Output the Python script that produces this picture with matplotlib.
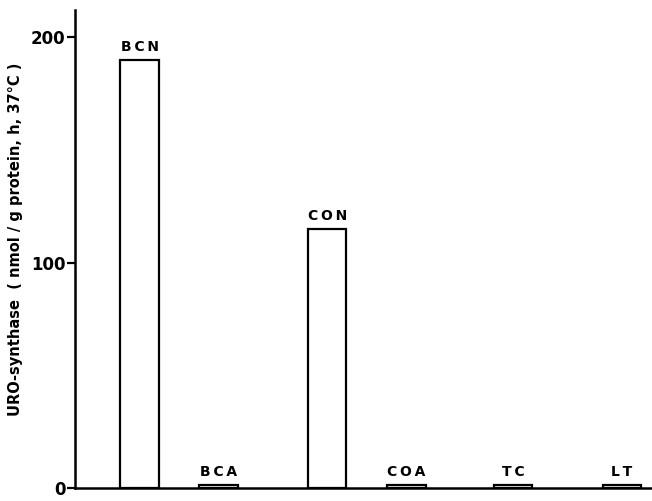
from matplotlib import pyplot as plt

groups = ['BCN', 'BCA', 'CON', 'COA', 'TC', 'LT']
activity = [190, 1.5, 115, 1.5, 1.5, 1.3]
ytick_vals = [0, 100, 200]

if __name__ == "__main__":
    plt.rcParams['font.family'] = ['DejaVu Sans']
    fig = plt.figure(figsize=(6.52, 5.01), dpi=100)
    ax = fig.add_axes([0.115, 0.026, 0.885, 0.954])

    xpos = [0.82, 1.82, 3.19, 4.19, 5.54, 6.92]
    ax.bar(xpos, activity, width=0.49, color='white', edgecolor='black', linewidth=1.6)
    for x, v, g in zip(xpos, activity, groups):
        ax.text(x, v + 2.5, '\u2009'.join(g), ha='center', va='bottom',
                fontsize=10, fontweight='bold')

    ax.set_xlim(0, 7.3)
    ax.set_ylim(0, 212)
    ax.set_yticks(ytick_vals)
    ax.set_yticklabels([str(t) for t in ytick_vals], fontsize=12, fontweight='bold')
    ax.set_xticks([])
    ax.tick_params(axis='y', direction='out', length=6, width=1.6, pad=1)
    ax.spines['top'].set_visible(False)
    ax.spines['right'].set_visible(False)
    ax.spines['left'].set_linewidth(1.8)
    ax.spines['bottom'].set_linewidth(1.8)
    ax.set_ylabel('URO-synthase  ( nmol / g protein, h, 37\u00b0C )', fontsize=10.5,
                  fontweight='bold')
    ax.yaxis.set_label_coords(-0.09, 0.52)

    plt.savefig('out.png')
